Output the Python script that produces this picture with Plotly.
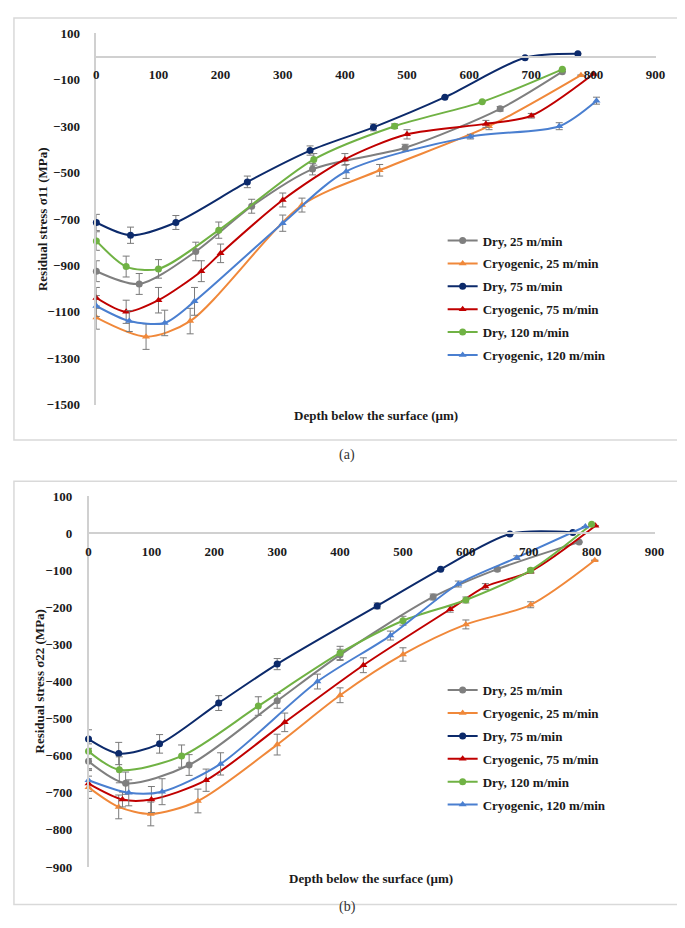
import plotly.graph_objects as go

W, H = 685, 928

series_names = ["Dry, 25 m/min", "Cryogenic, 25 m/min", "Dry, 75 m/min",
                "Cryogenic, 75 m/min", "Dry, 120 m/min", "Cryogenic, 120 m/min"]
series_colors = ["#7f7f7f", "#f0883a", "#0c2a6b", "#c00000", "#70b244", "#4a7fd0"]
series_symbols = ["circle", "triangle-up", "circle", "triangle-up", "circle", "triangle-up"]

# ---- (a) sigma 11 ----
a_dry25_x = [0, 69, 160, 250, 348, 497, 650, 750]
a_dry25_y = [-925, -980, -840, -645, -485, -393, -225, -65]
a_dry25_e = [45, 45, 40, 30, 25, 15, 10, 0]

a_cryo25_x = [0, 80, 151, 331, 456, 632, 780]
a_cryo25_y = [-1125, -1207, -1140, -640, -490, -300, -80]
a_cryo25_e = [50, 55, 55, 30, 25, 15, 0]

a_dry75_x = [0, 55, 128, 243, 344, 446, 561, 690, 775]
a_dry75_y = [-715, -770, -715, -540, -405, -305, -175, -5, 12]
a_dry75_e = [35, 35, 30, 25, 20, 15, 0, 0, 0]

a_cryo75_x = [0, 48, 100, 169, 200, 300, 400, 500, 627, 700, 800]
a_cryo75_y = [-1040, -1100, -1050, -925, -848, -618, -443, -335, -290, -255, -75]
a_cryo75_e = [45, 50, 55, 45, 40, 30, 25, 20, 15, 10, 0]

a_dry120_x = [0, 48, 100, 197, 350, 480, 621, 750]
a_dry120_y = [-795, -905, -915, -748, -443, -300, -195, -55]
a_dry120_e = [40, 45, 40, 35, 25, 10, 0, 0]

a_cryo120_x = [0, 53, 110, 158, 300, 402, 602, 745, 805]
a_cryo120_y = [-1075, -1140, -1148, -1055, -718, -495, -345, -300, -190]
a_cryo120_e = [45, 45, 55, 60, 35, 30, 10, 15, 15]

# ---- (b) sigma 22 ----
b_dry25_x = [0, 59, 160, 300, 400, 548, 650, 780]
b_dry25_y = [-615, -674, -625, -452, -328, -172, -97, -24]
b_dry25_e = [25, 30, 28, 20, 15, 8, 5, 0]

b_cryo25_x = [0, 48, 99, 174, 300, 400, 500, 600, 703, 805]
b_cryo25_y = [-685, -738, -757, -722, -570, -437, -327, -246, -193, -73]
b_cryo25_e = [30, 32, 32, 32, 28, 20, 18, 12, 8, 0]

b_dry75_x = [0, 48, 113, 207, 300, 459, 560, 670, 770]
b_dry75_y = [-555, -594, -568, -458, -353, -196, -97, -2, 2]
b_dry75_e = [25, 30, 25, 20, 15, 8, 0, 0, 0]

b_cryo75_x = [0, 54, 100, 187, 312, 437, 575, 631, 703, 806]
b_cryo75_y = [-675, -718, -718, -666, -510, -356, -205, -144, -103, 20]
b_cryo75_e = [40, 20, 35, 30, 25, 20, 8, 8, 5, 0]

b_dry120_x = [0, 49, 148, 270, 400, 500, 600, 703, 800]
b_dry120_y = [-588, -638, -601, -466, -323, -236, -180, -100, 24]
b_dry120_e = [20, 35, 30, 25, 18, 12, 8, 5, 0]

b_cryo120_x = [0, 64, 117, 210, 364, 480, 588, 681, 790]
b_cryo120_y = [-666, -700, -697, -622, -400, -276, -137, -66, 18]
b_cryo120_e = [30, 35, 35, 30, 20, 12, 8, 5, 0]

a_x = [a_dry25_x, a_cryo25_x, a_dry75_x, a_cryo75_x, a_dry120_x, a_cryo120_x]
a_y = [a_dry25_y, a_cryo25_y, a_dry75_y, a_cryo75_y, a_dry120_y, a_cryo120_y]
a_e = [a_dry25_e, a_cryo25_e, a_dry75_e, a_cryo75_e, a_dry120_e, a_cryo120_e]
b_x = [b_dry25_x, b_cryo25_x, b_dry75_x, b_cryo75_x, b_dry120_x, b_cryo120_x]
b_y = [b_dry25_y, b_cryo25_y, b_dry75_y, b_cryo75_y, b_dry120_y, b_cryo120_y]
b_e = [b_dry25_e, b_cryo25_e, b_dry75_e, b_cryo75_e, b_dry120_e, b_cryo120_e]

x_ticks = [0, 100, 200, 300, 400, 500, 600, 700, 800, 900]
a_y_ticks = [100, -100, -300, -500, -700, -900, -1100, -1300, -1500]
b_y_ticks = [100, 0, -100, -200, -300, -400, -500, -600, -700, -800, -900]

FONT = "Liberation Serif, Times New Roman, DejaVu Serif, serif"
ERRC = "#7a7a7a"

def px(x):
    return x / W

def py(y):
    return 1 - y / H

fig = go.Figure()

for panel, (xs, ys, es, xa, ya, lg) in enumerate([
        (a_x, a_y, a_e, "x", "y", "legend"),
        (b_x, b_y, b_e, "x2", "y2", "legend2")]):
    for i in range(6):
        fig.add_trace(go.Scatter(
            x=xs[i], y=ys[i], name=series_names[i], mode="lines+markers",
            line=dict(color=series_colors[i], width=2, shape="spline", smoothing=0.8),
            marker=dict(color=series_colors[i], symbol=series_symbols[i], size=7),
            error_y=dict(type="data", array=es[i], color=ERRC, thickness=1, width=3.5),
            xaxis=xa, yaxis=ya, legend=lg, legendgroup=f"{lg}{i}",
            cliponaxis=False,
        ))

# geometry (pixels)
a_left, a_right = 87, 657
a_top_px, a_bot_px = 18.7, 396.0          # y=100 and y=-1500
a_zero_px = 42.3
b_left, b_right = 79, 656
b_top_px, b_bot_px = 489.0, 866.0          # y=100 and y=-900
b_zero_px = 526.7

tickfont = dict(family=FONT, size=13, color="#1a1a1a", weight="bold")
axcol = "#d0d0d0"

fig.update_layout(
    width=W, height=H, margin=dict(l=0, r=0, t=0, b=0),
    font=dict(family=FONT),
    paper_bgcolor="white", plot_bgcolor="white", showlegend=True,
    xaxis=dict(domain=[px(a_left), px(a_right)], range=[0, 900], tickvals=x_ticks,
               anchor="free", position=py(a_zero_px), showline=True, linecolor=axcol,
               linewidth=1.5, showgrid=False, zeroline=False, ticks="",
               tickfont=tickfont, ticklabelstandoff=6),
    yaxis=dict(domain=[py(a_bot_px), py(a_top_px)], range=[-1500, 100], tickvals=a_y_ticks,
               anchor="x", showline=True, linecolor=axcol, linewidth=1.5, showgrid=False,
               zeroline=False, ticks="", tickfont=tickfont, ticklabelstandoff=12),
    xaxis2=dict(domain=[px(b_left), px(b_right)], range=[0, 900], tickvals=x_ticks,
                anchor="free", position=py(b_zero_px), showline=True, linecolor=axcol,
                linewidth=1.5, showgrid=False, zeroline=False, ticks="",
                tickfont=tickfont, ticklabelstandoff=6),
    yaxis2=dict(domain=[py(b_bot_px), py(b_top_px)], range=[-900, 100], tickvals=b_y_ticks,
                anchor="x2", showline=True, linecolor=axcol, linewidth=1.5, showgrid=False,
                zeroline=False, ticks="", tickfont=tickfont, ticklabelstandoff=12),
    legend=dict(x=px(440), y=py(214), xanchor="left", yanchor="top",
                font=dict(family=FONT, size=13, color="#1a1a1a", weight="bold"),
                bgcolor="rgba(0,0,0,0)", traceorder="grouped", tracegroupgap=3,
                itemwidth=30),
    legend2=dict(x=px(440), y=py(671), xanchor="left", yanchor="top",
                 font=dict(family=FONT, size=13, color="#1a1a1a", weight="bold"),
                 bgcolor="rgba(0,0,0,0)", traceorder="grouped", tracegroupgap=3,
                 itemwidth=30),
)

titlefont = dict(family=FONT, size=13, color="#1a1a1a", weight="bold")
annots = [
    dict(x=px(32), y=py(207), text="Residual stress σ11 (MPa)", textangle=-90),
    dict(x=px(372), y=py(407), text="Depth below the surface (µm)"),
    dict(x=px(29), y=py(677), text="Residual stress σ22 (MPa)", textangle=-90),
    dict(x=px(367), y=py(878), text="Depth below the surface (µm)"),
]
for a in annots:
    fig.add_annotation(xref="paper", yref="paper", showarrow=False,
                       xanchor="center", yanchor="middle", font=titlefont, **a)
for lab, yy in [("(a)", 447), ("(b)", 917)]:
    fig.add_annotation(xref="paper", yref="paper", showarrow=False, x=px(343), y=py(yy),
                       text=lab, font=dict(family=FONT, size=14, color="#333333"))

for (y0, y1) in [(3, 432), (474, 904)]:
    fig.add_shape(type="rect", xref="paper", yref="paper", x0=px(3), x1=px(683),
                  y0=py(y1), y1=py(y0), line=dict(color="#d9d9d9", width=1.5),
                  fillcolor="rgba(0,0,0,0)", layer="below")

fig.write_html("out.html")
